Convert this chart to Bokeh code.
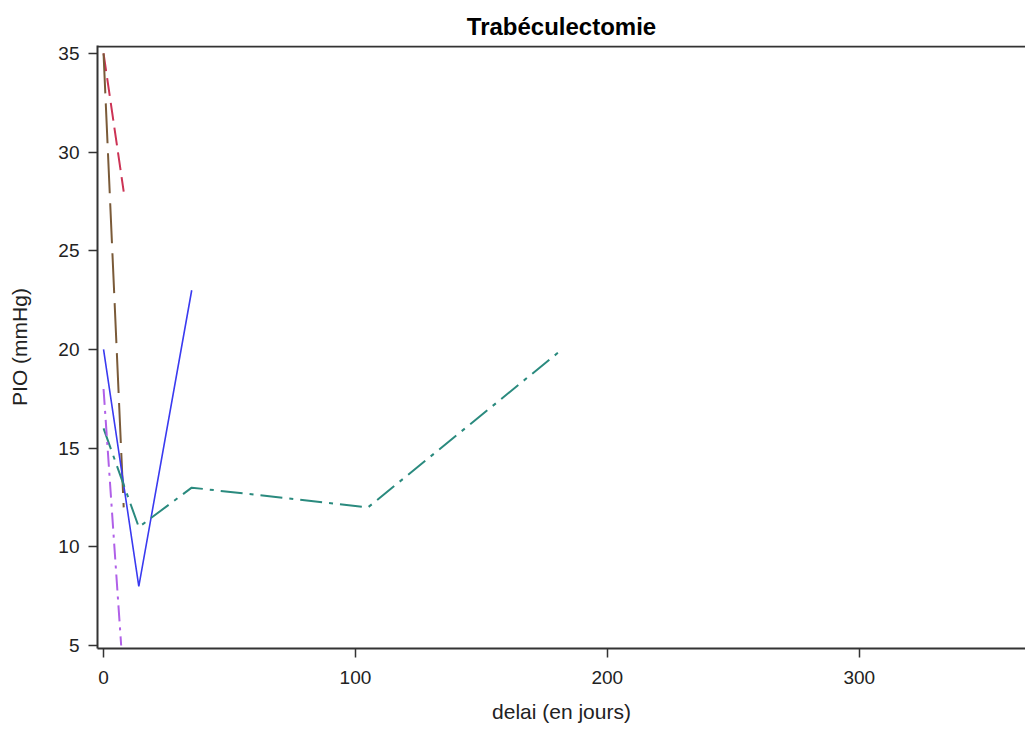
from bokeh.plotting import figure
from bokeh.models import Range1d, FixedTicker, Span
from bokeh.embed import file_html
from bokeh.resources import INLINE

title_text = "Trabéculectomie"
x_label = "delai (en jours)"
y_label = "PIO (mmHg)"

x_ticks = [0, 100, 200, 300]
y_ticks = [5, 10, 15, 20, 25, 30, 35]

# Patient series (delay in days, IOP mmHg)
red_x = [0, 8]
red_y = [35, 28]
brown_x = [0, 8]
brown_y = [35, 12]
blue_x = [0, 14, 35]
blue_y = [20, 8, 23]
teal_x = [0, 14, 35, 105, 182]
teal_y = [16, 11, 13, 12, 20]
purple_x = [0, 7]
purple_y = [18, 5]

FONT = "Liberation Sans"
Y_TOP = 35.4

p = figure(width=1025, height=731, output_backend="svg", toolbar_location=None,
           x_range=Range1d(-2.4, 366), y_range=Range1d(4.85, Y_TOP),
           min_border_left=97, min_border_right=0, min_border_bottom=83, min_border_top=45)
p.outline_line_color = None
p.grid.visible = False
p.background_fill_color = "white"
p.border_fill_color = "white"

p.title.text = title_text
p.title.align = "center"
p.title.text_font = FONT
p.title.text_font_size = "24px"
p.title.text_font_style = "bold"
p.title.text_color = "black"
p.title.standoff = 12
p.title.offset = 5

for ax in (p.xaxis[0], p.yaxis[0]):
    ax.axis_line_width = 2
    ax.axis_line_color = "#333333"
    ax.major_tick_line_color = "#333333"
    ax.major_tick_line_width = 1.5
    ax.major_tick_out = 9
    ax.major_tick_in = 0
    ax.minor_tick_line_color = None
    ax.major_label_text_font = FONT
    ax.major_label_text_font_size = "19px"
    ax.major_label_text_color = "#222222"
    ax.axis_label_text_font = FONT
    ax.axis_label_text_font_size = "21px"
    ax.axis_label_text_font_style = "normal"
    ax.axis_label_text_color = "#222222"

p.xaxis[0].ticker = FixedTicker(ticks=x_ticks)
p.yaxis[0].ticker = FixedTicker(ticks=y_ticks)
p.xaxis[0].axis_label = x_label
p.yaxis[0].axis_label = y_label
p.xaxis[0].major_label_standoff = 13
p.xaxis[0].axis_label_standoff = 13
p.yaxis[0].major_label_standoff = 9
p.yaxis[0].axis_label_standoff = 24

# top border of the frame
p.add_layout(Span(location=Y_TOP - 0.05, dimension="width", line_width=2, line_color="#333333"))

p.line(red_x, red_y, line_color="#CC3355", line_width=2, line_dash="18 7")
p.line(brown_x, brown_y, line_color="#7A5A38", line_width=2, line_dash="40 10")
p.line(blue_x, blue_y, line_color="#3A3AF0", line_width=1.6)
p.line(teal_x, teal_y, line_color="#2A8A7E", line_width=2, line_dash="22 7 4 7")
p.line(purple_x, purple_y, line_color="#B060E8", line_width=2, line_dash="16 6 3 6")

open("out.html", "w").write(file_html(p, INLINE))
